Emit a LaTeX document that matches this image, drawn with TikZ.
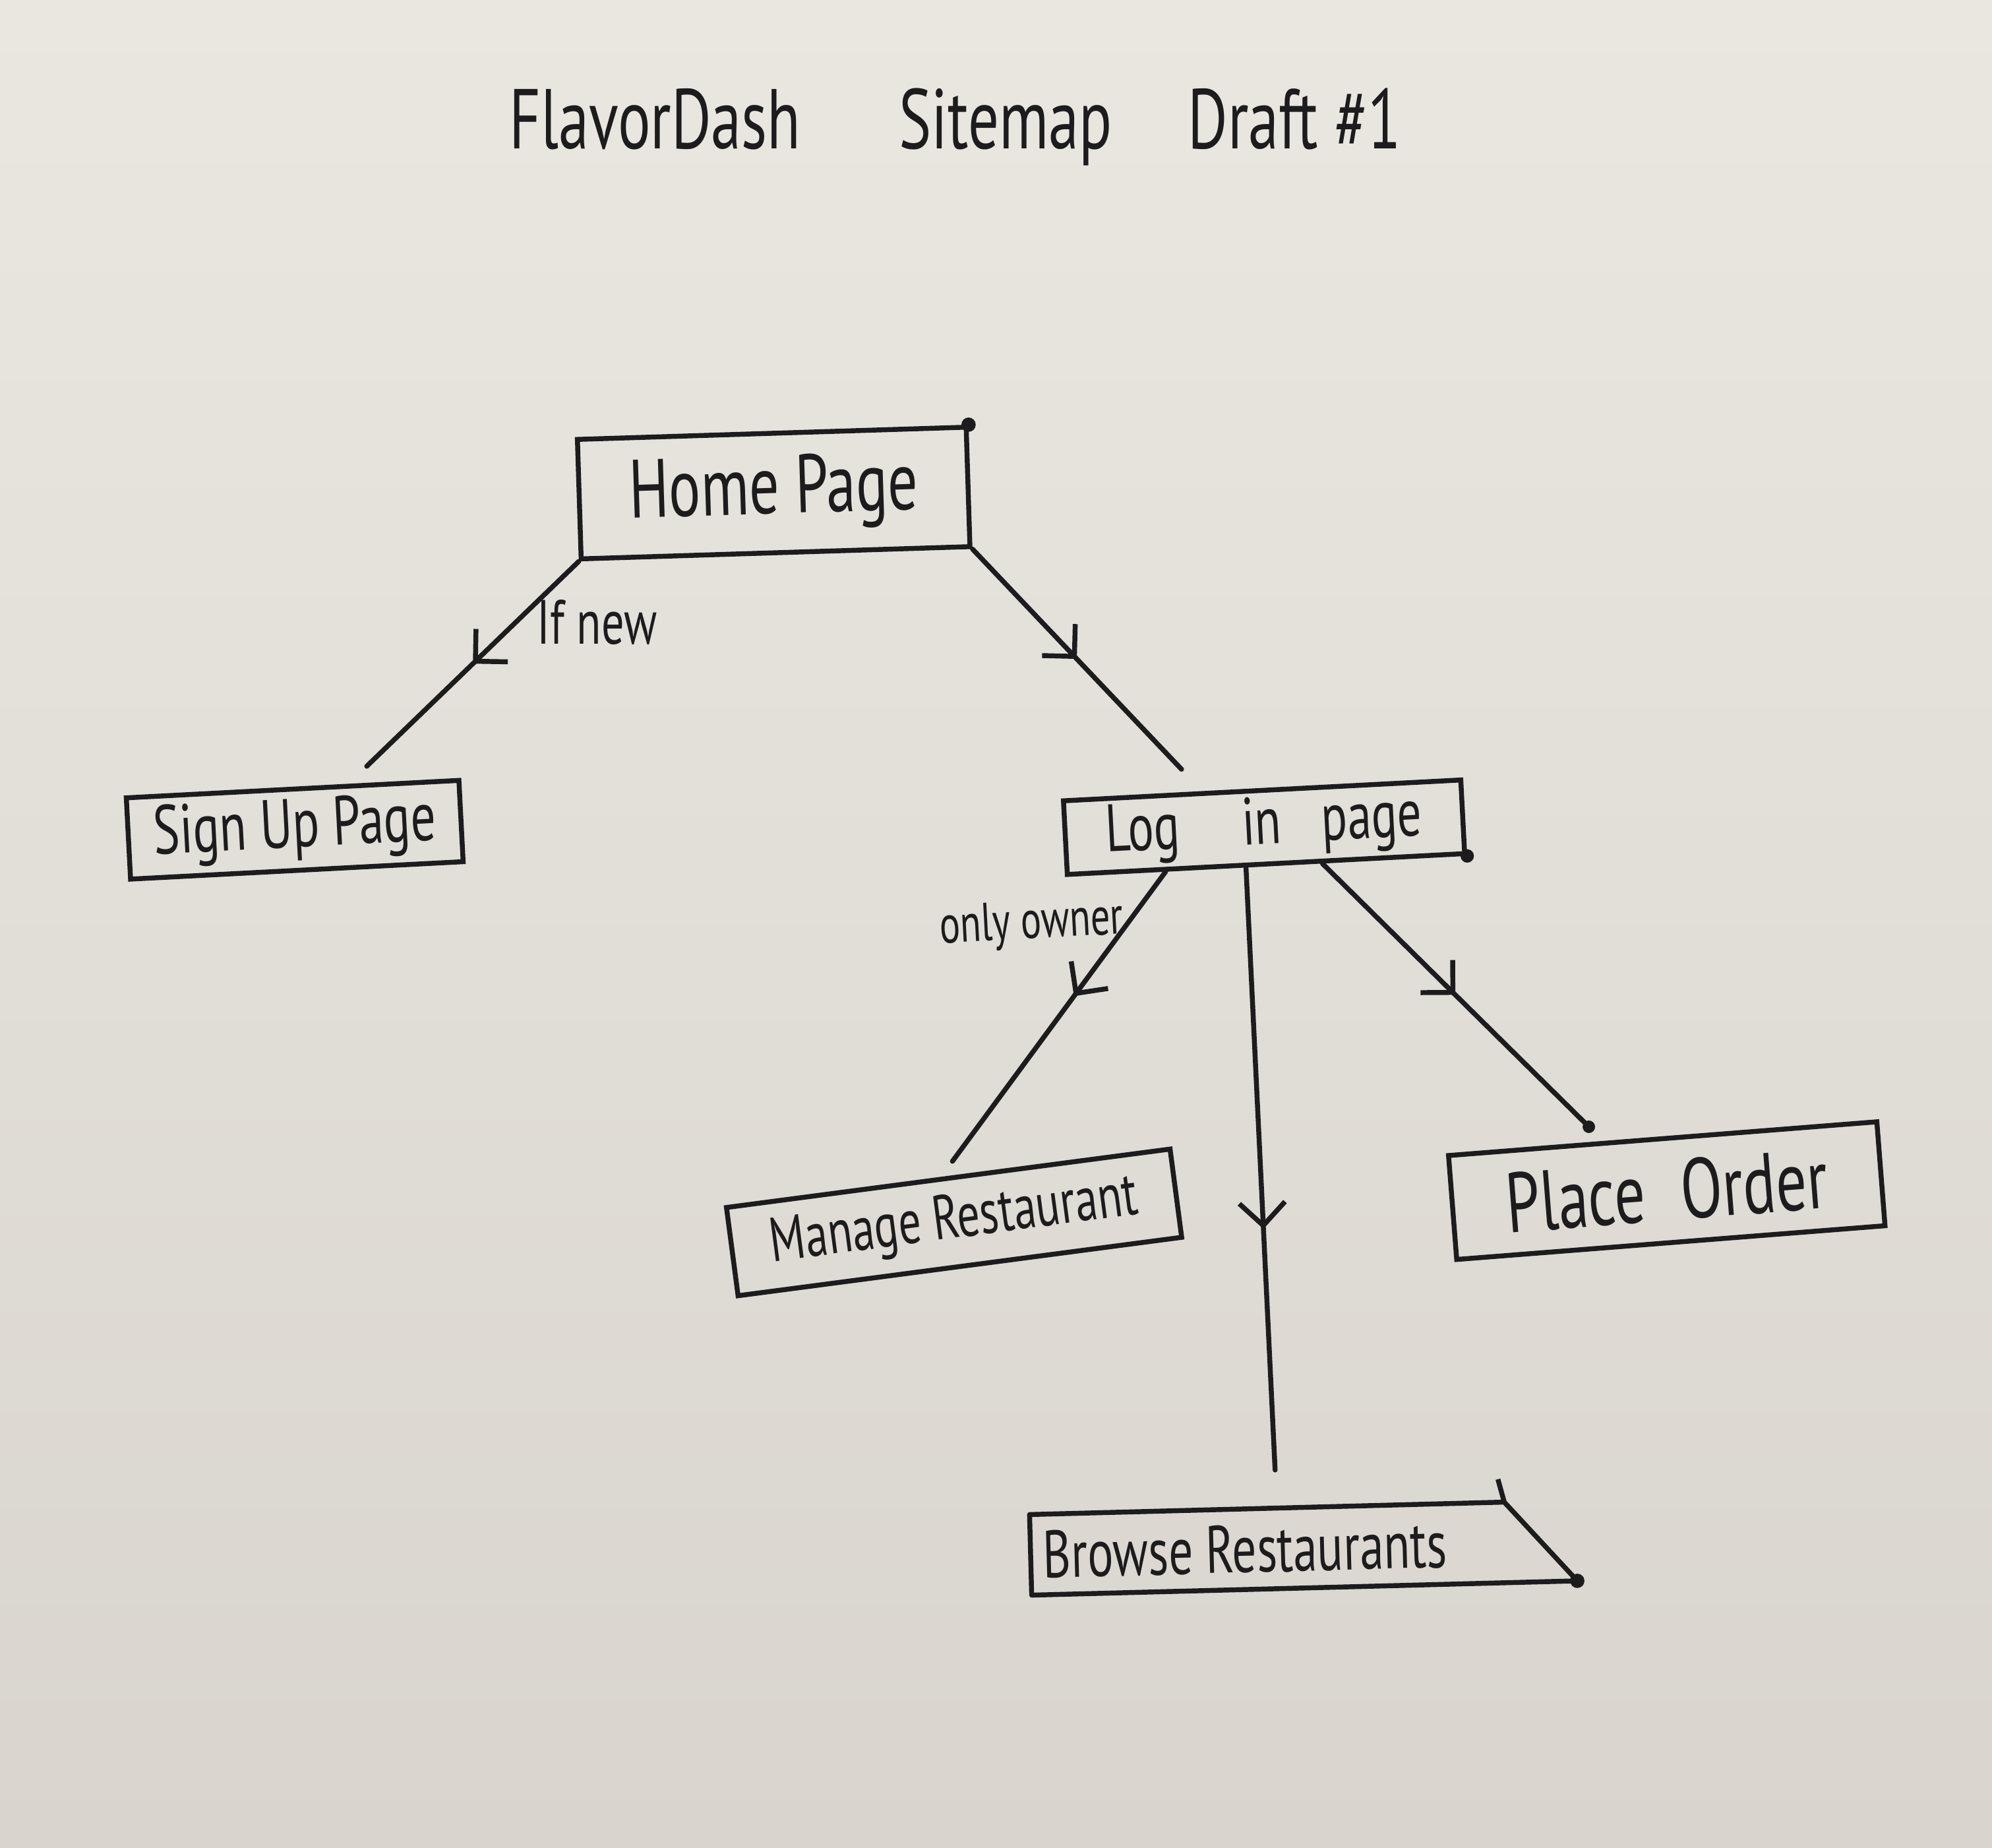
\documentclass[tikz,border=0pt]{standalone}
\usepackage{fontspec}
\newfontfamily\hand[FakeStretch=0.72]{PT Sans}
\usetikzlibrary{arrows.meta,decorations.markings,calc}
\definecolor{ink}{RGB}{28,28,30}
\definecolor{papertop}{RGB}{234,231,225}
\definecolor{paperbot}{RGB}{217,213,206}
\begin{document}
\begin{tikzpicture}[x=0.01cm,y=-0.01cm,
  box/.style={draw=ink,line width=1.1pt,inner sep=0pt,text=ink},
  plainbox/.style={inner sep=0pt,text=ink},
  boxline/.style={draw=ink,line width=1.1pt,line join=round},
  conn/.style={draw=ink,line width=1.1pt,line cap=round},
  midarrow/.style={postaction={decorate},decoration={markings,
     mark=at position #1 with {\arrow[ink,line width=1.1pt]{Straight Barb[length=1.8mm,width=3.6mm]}}}},
  lbl/.style={text=ink,inner sep=0pt},
  inkdot/.style={fill=ink}
]
\shade[top color=papertop,bottom color=paperbot] (0,0) rectangle (1568,1454);
\useasboundingbox (0,0) rectangle (1568,1454);

% title
\node[lbl,font=\fontsize{19}{19}\hand] (title) at (752,100)
  {FlavorDash\hspace{22pt}Sitemap\hspace{17pt}Draft \#1};

% boxes
\node[box,minimum width=3.06cm,minimum height=0.94cm,rotate=1.8,font=\fontsize{18.5}{18.5}\hand] (home) at (609,388) {Home Page};
\node[box,minimum width=2.62cm,minimum height=0.64cm,rotate=3,font=\fontsize{15.5}{15.5}\hand] (signup) at (232,653) {Sign Up Page};
\node[box,minimum width=3.13cm,minimum height=0.58cm,rotate=3,font=\fontsize{15}{15}\hand] (login) at (995,651) {Log\hspace{14pt}in\hspace{9pt}page};
\node[box,minimum width=3.52cm,minimum height=0.70cm,rotate=7.5,font=\fontsize{14}{14}\hand] (manage) at (751,962) {Manage Restaurant};
\node[box,minimum width=3.38cm,minimum height=0.82cm,rotate=4.5,font=\fontsize{19}{19}\hand] (place) at (1312,937) {Place\hspace{8pt}Order};
\node[plainbox,minimum width=4.28cm,minimum height=0.62cm,rotate=1.5,font=\fontsize{15}{15}\hand] (browse) at (1026,1218)
  {\makebox[4.1cm][l]{Browse Restaurants}};
\coordinate (btr) at ($(browse.north east)!0.13!(browse.north west)$);
\draw[boxline] (browse.south west) -- (browse.north west) -- (btr) -- (browse.south east) -- cycle;
\draw[boxline] (btr) -- ++(-5,-18);

% connector free ends
\coordinate (e1) at ($(signup.north west)!0.72!(signup.north east)+(0,-13)$);
\coordinate (e2) at ($(login.north west)!0.30!(login.north east)+(0,-18)$);
\coordinate (e3) at ($(manage.north west)!0.51!(manage.north east)+(0,-11)$);
\coordinate (e4) at ($(browse.north west)!0.45!(browse.north east)+(0,-30)$);
\coordinate (e5) at ($(place.north west)!0.33!(place.north east)+(0,-12)$);

% connectors
\draw[conn,midarrow=0.5] (home.south west) -- (e1);
\draw[conn,midarrow=0.5] (home.south east) -- (e2);
\draw[conn,midarrow=0.43] ($(login.south west)!0.25!(login.south east)$) -- (e3);
\draw[conn,midarrow=0.6] ($(login.south west)!0.45!(login.south east)$) -- (e4);
\draw[conn,midarrow=0.5] ($(login.south west)!0.64!(login.south east)$) -- (e5);

% edge labels
\node[lbl,font=\fontsize{14}{14}\hand] (ifnew) at (470,490) {If new};
\node[lbl,font=\fontsize{12}{12}\hand,rotate=3] (onlyowner) at (812,728) {only owner};

% pen dots
\fill[inkdot] (home.north east) circle (1.6pt);
\fill[inkdot] (login.south east) circle (1.5pt);
\fill[inkdot] (browse.south east) circle (1.6pt);
\fill[inkdot] (e5) circle (1.4pt);
\end{tikzpicture}
\end{document}
